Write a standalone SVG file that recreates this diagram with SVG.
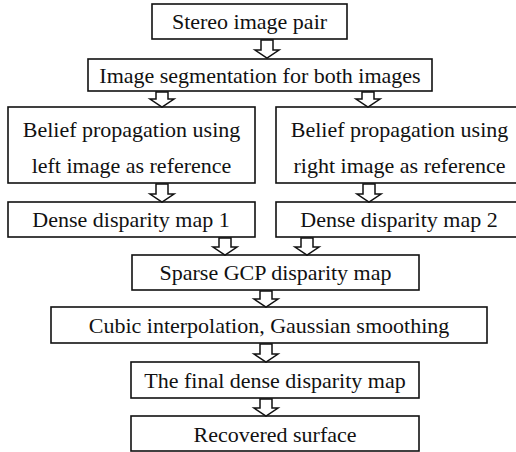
<svg xmlns="http://www.w3.org/2000/svg" width="516" height="452" viewBox="0 0 516 452">
  <style>
    .box rect { fill: #fff; stroke: #111; stroke-width: 1.6; }
    .box text { font-family: 'Liberation Serif', 'DejaVu Serif', serif; font-size: 22px; fill: #111; text-anchor: middle; }
    .arr { fill: #fff; stroke: #111; stroke-width: 1.5; stroke-linejoin: miter; }
  </style>
  <rect width="516" height="452" fill="#fff"/>

  <!-- processing steps -->
  <g id="stereo" class="box">
    <rect x="152" y="4" width="195" height="35"/>
    <text x="249.5" y="29">Stereo image pair</text>
  </g>
  <g id="segmentation" class="box">
    <rect x="88" y="59" width="344" height="32"/>
    <text x="260" y="83">Image segmentation for both images</text>
  </g>
  <g id="bp-left" class="box">
    <rect x="8" y="107" width="247" height="76"/>
    <text x="131.5" y="137">Belief propagation using</text>
    <text x="131.5" y="173">left image as reference</text>
  </g>
  <g id="bp-right" class="box">
    <rect x="276" y="107" width="247" height="76"/>
    <text x="399.5" y="137">Belief propagation using</text>
    <text x="399.5" y="173">right image as reference</text>
  </g>
  <g id="dense1" class="box">
    <rect x="8" y="202" width="247" height="35"/>
    <text x="131" y="227">Dense disparity map 1</text>
  </g>
  <g id="dense2" class="box">
    <rect x="276" y="202" width="247" height="35"/>
    <text x="399" y="227">Dense disparity map 2</text>
  </g>
  <g id="sparse-gcp" class="box">
    <rect x="132" y="255" width="287" height="35"/>
    <text x="275.5" y="280">Sparse GCP disparity map</text>
  </g>
  <g id="interpolation" class="box">
    <rect x="51" y="307" width="436" height="36"/>
    <text x="269" y="333">Cubic interpolation, Gaussian smoothing</text>
  </g>
  <g id="final-map" class="box">
    <rect x="131" y="362" width="288" height="36"/>
    <text x="275" y="388">The final dense disparity map</text>
  </g>
  <g id="surface" class="box">
    <rect x="131" y="416" width="288" height="35"/>
    <text x="275" y="442">Recovered surface</text>
  </g>

  <!-- hollow block arrows between steps -->
  <g id="connectors">
    <polygon class="arr" points="261,40 273,40 273,50 279,50 267,58 255,50 261,50"/>
    <polygon class="arr" points="156,92 168,92 168,99 174,99 162,107 150,99 156,99"/>
    <polygon class="arr" points="362,92 374,92 374,99 380,99 368,107 356,99 362,99"/>
    <polygon class="arr" points="156,184 168,184 168,194 174,194 162,202 150,194 156,194"/>
    <polygon class="arr" points="363,184 375,184 375,194 381,194 369,202 357,194 363,194"/>
    <polygon class="arr" points="219,238 231,238 231,247 237,247 225,255 213,247 219,247"/>
    <polygon class="arr" points="301,238 313,238 313,247 319,247 307,255 295,247 301,247"/>
    <polygon class="arr" points="260,291 272,291 272,299 278,299 266,307 254,299 260,299"/>
    <polygon class="arr" points="260,344 272,344 272,354 278,354 266,362 254,354 260,354"/>
    <polygon class="arr" points="260,399 272,399 272,408 278,408 266,416 254,408 260,408"/>
  </g>
</svg>
